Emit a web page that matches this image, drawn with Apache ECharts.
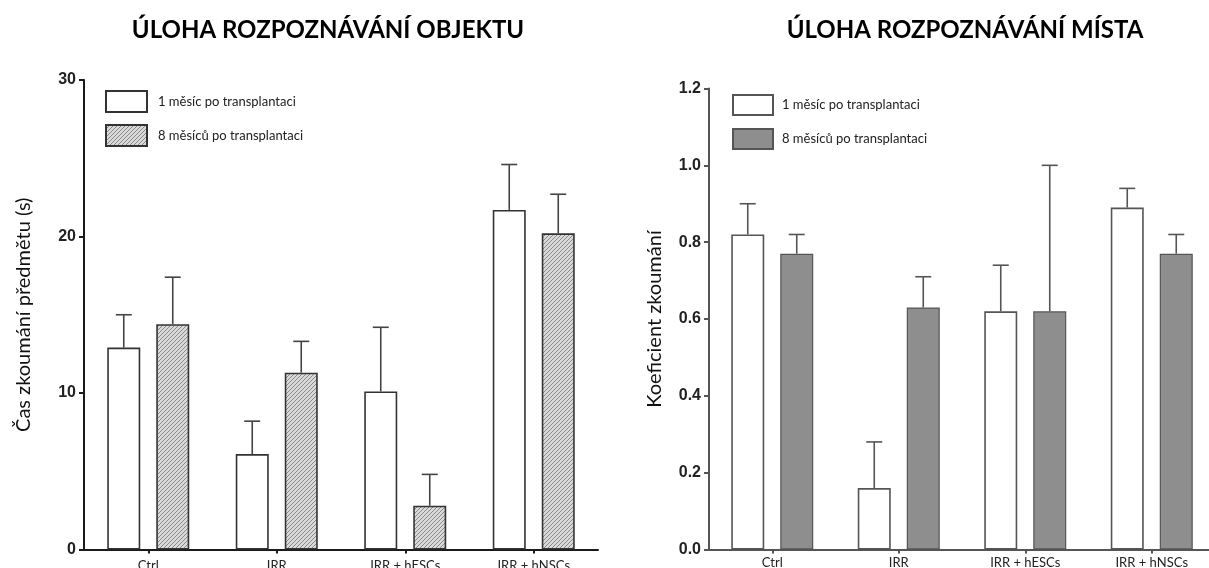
<!DOCTYPE html>
<html>
<head>
<meta charset="utf-8">
<script src="https://cdn.jsdelivr.net/npm/echarts@6/dist/echarts.min.js"></script>
<style>
  html, body { margin: 0; padding: 0; background: #fff; }
  #chart { width: 1209px; height: 568px; }
</style>
</head>
<body>
<div id="chart"></div>
<script>
// Groups shared by both panels
const categories = ['Ctrl', 'IRR', 'IRR + hESCs', 'IRR + hNSCs'];
const seriesLabels = ['1 měsíc po transplantaci', '8 měsíců po transplantaci'];

// Object recognition task: exploration time (s), mean and SEM
const objectMonth1 = [12.9, 6.1, 10.1, 21.7];
const objectMonth1Err = [2.1, 2.1, 4.1, 2.9];
const objectMonth8 = [14.4, 11.3, 2.8, 20.2];
const objectMonth8Err = [3.0, 2.0, 2.0, 2.5];
const objectTicks = [0, 10, 20, 30];

// Place recognition task: exploration coefficient, mean and SEM
const placeMonth1 = [0.82, 0.16, 0.62, 0.89];
const placeMonth1Err = [0.08, 0.12, 0.12, 0.05];
const placeMonth8 = [0.77, 0.63, 0.62, 0.77];
const placeMonth8Err = [0.05, 0.08, 0.38, 0.05];
const placeTicks = [0, 0.2, 0.4, 0.6, 0.8, 1.0, 1.2];

const titles = ['ÚLOHA ROZPOZNÁVÁNÍ OBJEKTU', 'ÚLOHA ROZPOZNÁVÁNÍ MÍSTA'];
const yNames = ['Čas zkoumání předmětu (s)', 'Koeficient zkoumání'];

// Diagonal hatch fill for the 8-month bars of the first panel
function hatchPattern() {
  const c = document.createElement('canvas');
  c.width = 4; c.height = 4;
  const ctx = c.getContext('2d');
  ctx.fillStyle = '#d9d9d9';
  ctx.fillRect(0, 0, 4, 4);
  ctx.strokeStyle = '#8a8a8a';
  ctx.lineWidth = 1;
  ctx.beginPath();
  for (const k of [-4, 0, 4]) {
    ctx.moveTo(k, 4);
    ctx.lineTo(k + 4, 0);
  }
  ctx.stroke();
  return c;
}

const BAR_W = 33;
const BAR_GAP = 16;
const HALF_STEP = (BAR_W + BAR_GAP) / 2;

function errData(vals, errs) {
  return vals.map((v, i) => [i, v, errs[i]]);
}

// Upward-only error bar with a cap, offset onto its bar
function errorSeries(gridIdx, vals, errs, side, color) {
  return {
    type: 'custom',
    xAxisIndex: gridIdx,
    yAxisIndex: gridIdx,
    silent: true,
    z: 3,
    data: errData(vals, errs),
    renderItem: function (params, api) {
      const ci = api.value(0), v = api.value(1), e = api.value(2);
      const p0 = api.coord([ci, v]);
      const p1 = api.coord([ci, v + e]);
      const x = p0[0] + side * HALF_STEP;
      const cap = 8;
      const style = { stroke: color, lineWidth: 1.6 };
      return {
        type: 'group',
        children: [
          { type: 'line', shape: { x1: x, y1: p0[1], x2: x, y2: p1[1] }, style: style },
          { type: 'line', shape: { x1: x - cap, y1: p1[1], x2: x + cap, y2: p1[1] }, style: style }
        ]
      };
    }
  };
}

const textFont = 'Lato, "Open Sans", sans-serif';
const numFont = '"Liberation Sans", Arial, sans-serif';

const names = {
  o1: seriesLabels[0], o8: seriesLabels[1],
  p1: seriesLabels[0], p8: seriesLabels[1]
};

function yAxisCfg(gridIdx, ticks, lineColor, nameGap, fmt) {
  return {
    type: 'value',
    gridIndex: gridIdx,
    min: ticks[0],
    max: ticks[ticks.length - 1],
    interval: ticks[1] - ticks[0],
    name: yNames[gridIdx],
    nameLocation: 'middle',
    nameGap: nameGap,
    nameRotate: 90,
    nameTextStyle: { fontFamily: textFont, fontSize: 20, color: '#111' },
    axisLine: { show: true, lineStyle: { color: lineColor, width: 2 } },
    axisTick: { show: true, length: 5, lineStyle: { color: lineColor, width: 2 } },
    axisLabel: {
      fontFamily: numFont, fontWeight: 'bold', fontSize: 16, color: '#222', margin: 8,
      formatter: fmt
    },
    splitLine: { show: false }
  };
}

function xAxisCfg(gridIdx, lineColor, margin) {
  return {
    type: 'category',
    gridIndex: gridIdx,
    data: categories,
    axisLine: { show: true, lineStyle: { color: lineColor, width: 2 } },
    axisTick: { show: true, alignWithLabel: true, length: 4, lineStyle: { color: lineColor, width: 2 } },
    axisLabel: { fontFamily: textFont, fontSize: 13, color: '#222', margin: margin, interval: 0 }
  };
}

const hatch = hatchPattern();

const option = {
  backgroundColor: '#fff',
  animation: false,
  title: [
    { text: titles[0], left: 323, top: 13, textAlign: 'center',
      textStyle: { fontFamily: textFont, fontSize: 24, fontWeight: 'bold', color: '#000' } },
    { text: titles[1], left: 960, top: 13, textAlign: 'center',
      textStyle: { fontFamily: textFont, fontSize: 24, fontWeight: 'bold', color: '#000' } }
  ],
  legend: [
    { data: ['o1', 'o8'], orient: 'vertical', left: 105, top: 90, padding: 0,
      itemWidth: 41, itemHeight: 21, itemGap: 11, icon: 'rect', formatter: n => names[n],
      textStyle: { fontFamily: textFont, fontSize: 13, color: '#222', padding: [0, 0, 0, 6] } },
    { data: ['p1', 'p8'], orient: 'vertical', left: 732, top: 94, padding: 0,
      itemWidth: 40, itemHeight: 20, itemGap: 12, icon: 'rect', formatter: n => names[n],
      textStyle: { fontFamily: textFont, fontSize: 13, color: '#222', padding: [0, 0, 0, 4] } }
  ],
  grid: [
    { left: 84, top: 80, width: 514, height: 469.5, outerBoundsMode: 'none', containLabel: false },
    { left: 709, top: 88.5, width: 506, height: 461, outerBoundsMode: 'none', containLabel: false }
  ],
  xAxis: [xAxisCfg(0, '#1a1a1a', 10), xAxisCfg(1, '#555', 7)],
  yAxis: [
    yAxisCfg(0, objectTicks, '#1a1a1a', 50, v => String(v)),
    yAxisCfg(1, placeTicks, '#555', 44, v => v.toFixed(1))
  ],
  series: [
    { name: 'o1', type: 'bar', xAxisIndex: 0, yAxisIndex: 0, data: objectMonth1,
      barWidth: BAR_W, barGap: (BAR_GAP / BAR_W * 100) + '%',
      itemStyle: { color: '#fff', borderColor: '#333', borderWidth: 1.6 } },
    { name: 'o8', type: 'bar', xAxisIndex: 0, yAxisIndex: 0, data: objectMonth8,
      barWidth: BAR_W, barGap: (BAR_GAP / BAR_W * 100) + '%',
      itemStyle: { color: { image: hatch, repeat: 'repeat' }, borderColor: '#333', borderWidth: 1.6 } },
    { name: 'p1', type: 'bar', xAxisIndex: 1, yAxisIndex: 1, data: placeMonth1,
      barWidth: BAR_W, barGap: (BAR_GAP / BAR_W * 100) + '%',
      itemStyle: { color: '#fff', borderColor: '#555', borderWidth: 1.6 } },
    { name: 'p8', type: 'bar', xAxisIndex: 1, yAxisIndex: 1, data: placeMonth8,
      barWidth: BAR_W, barGap: (BAR_GAP / BAR_W * 100) + '%',
      itemStyle: { color: '#8e8e8e', borderColor: '#555', borderWidth: 1.2 } },
    errorSeries(0, objectMonth1, objectMonth1Err, -1, '#444'),
    errorSeries(0, objectMonth8, objectMonth8Err, 1, '#444'),
    errorSeries(1, placeMonth1, placeMonth1Err, -1, '#555'),
    errorSeries(1, placeMonth8, placeMonth8Err, 1, '#555')
  ]
};

const chart = echarts.init(document.getElementById('chart'));
chart.setOption(option);
</script>
</body>
</html>
